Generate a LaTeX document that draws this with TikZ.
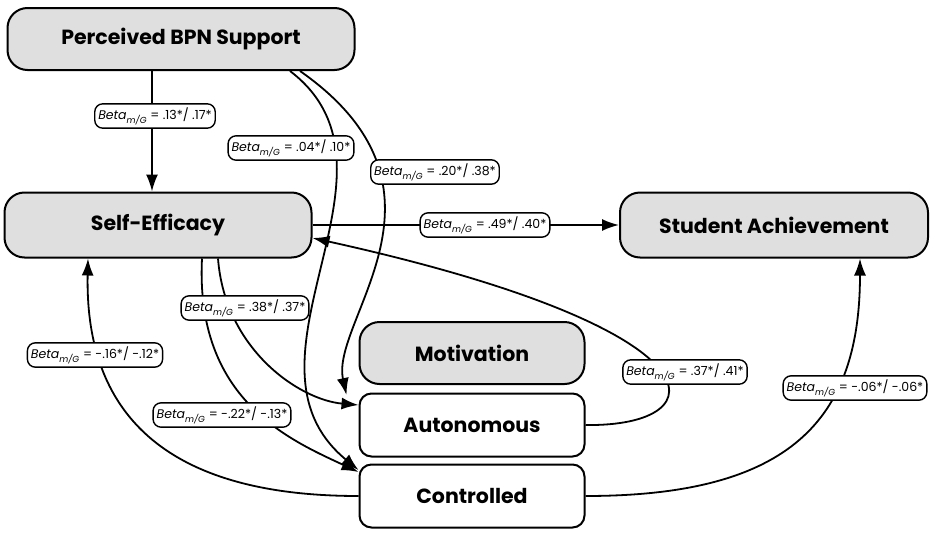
\documentclass[tikz,border=0pt]{standalone}
\usepackage{fontspec}
\setmainfont{Poppins}
\usetikzlibrary{arrows.meta}
\newcommand\bmg[1]{\textit{Beta}\textsubscript{\textit{m/G}} = #1}
\begin{document}
\begin{tikzpicture}[x=1pt, y=-1pt,
  box/.style={draw, line width=2pt, rounded corners=20pt, minimum height=62pt, font=\fontsize{20.5}{24}\selectfont\bfseries},
  grey/.style={box, fill=gray!25},
  lbl/.style={draw, fill=white, line width=1.4pt, rounded corners=8pt, inner sep=3.5pt, font=\fontsize{12.5}{14}\selectfont},
  path/.style={line width=1.8pt, -{Latex[length=17pt, width=12pt]}}]
\useasboundingbox (0,0) rectangle (935,533);

\node [grey, minimum width=347pt] (bpn) at (181,39) {Perceived BPN Support};
\node [grey, minimum width=307pt, minimum height=65pt] (se) at (158,225) {Self-Efficacy};
\node [grey, minimum width=308pt, minimum height=65pt] (sa) at (774,225) {Student Achievement};
\node [grey, minimum width=225pt] (mot) at (472,353) {Motivation};
\node [box, rounded corners=12pt, minimum width=225pt, minimum height=63pt] (aut) at (472,425) {Autonomous};
\node [box, rounded corners=12pt, minimum width=225pt, minimum height=63pt] (con) at (472,496) {Controlled};

% paths
\draw [path] ([xshift=-29pt]bpn.south) -- ([xshift=-6pt]se.north);
\draw [path] ([xshift=109pt]bpn.south) .. controls (420,170) and (225,360) .. ([yshift=26pt]con.west);
\draw [path] ([xshift=119pt]bpn.south) .. controls (470,190) and (330,320) .. ([xshift=-12pt,yshift=30pt]aut.west);
\draw [path] (se.east) -- (sa.west);
\draw [path] ([xshift=60pt]se.south) .. controls (225,350) and (300,400) .. ([yshift=20pt]aut.west);
\draw [path] ([xshift=44pt]se.south) .. controls (195,400) and (290,440) .. ([yshift=24pt]con.west);
\draw [path] (con.west) .. controls (150,496) and (85,400) .. ([xshift=-70pt]se.south);
\draw [path] (aut.east) .. controls (720,427) and (730,330) .. ([yshift=-13pt]se.east);
\draw [path] (con.east) .. controls (790,496) and (860,420) .. ([xshift=86pt]sa.south);

% labels
\node [lbl] (l1) at (155,116) {\bmg{.13*/ .17*}};
\node [lbl] (l2) at (291,148) {\bmg{.04*/ .10*}};
\node [lbl] (l3) at (435,172) {\bmg{.20*/ .38*}};
\node [lbl] (l4) at (485,225) {\bmg{.49*/ .40*}};
\node [lbl] (l5) at (245,308) {\bmg{.38*/ .37*}};
\node [lbl] (l6) at (222,415) {\bmg{-.22*/ -.13*}};
\node [lbl] (l7) at (95,355) {\bmg{-.16*/ -.12*}};
\node [lbl] (l8) at (685,372) {\bmg{.37*/ .41*}};
\node [lbl] (l9) at (855,388) {\bmg{-.06*/ -.06*}};
\end{tikzpicture}
\end{document}
